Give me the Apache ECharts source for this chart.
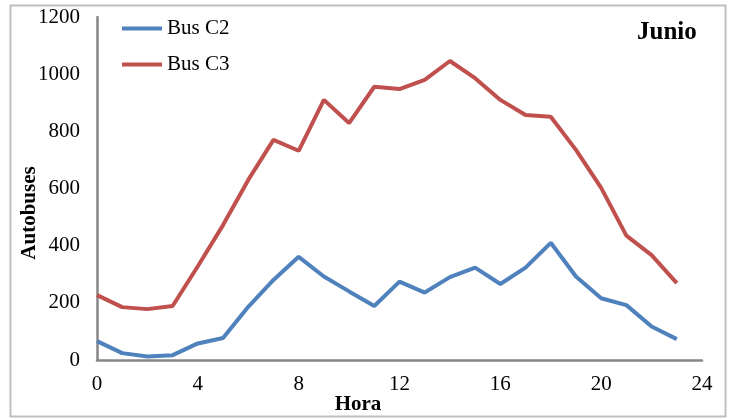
<!DOCTYPE html>
<html>
<head>
<meta charset="utf-8">
<script src="https://cdn.jsdelivr.net/npm/echarts@6/dist/echarts.min.js"></script>
<style>
  html, body { margin: 0; padding: 0; background: #fff; }
  #chart { width: 733px; height: 419px; }
</style>
</head>
<body>
<div id="chart"></div>
<script>
// Horas del día (0-23)
const hours = [0, 1, 2, 3, 4, 5, 6, 7, 8, 9, 10, 11, 12, 13, 14, 15, 16, 17, 18, 19, 20, 21, 22, 23];
const busC2 = [66, 24, 12, 17, 58, 77, 186, 280, 361, 292, 240, 189, 274, 236, 290, 323, 266, 323, 410, 292, 216, 192, 117, 73];
const busC3 = [227, 185, 178, 189, 328, 472, 630, 770, 732, 910, 829, 956, 948, 980, 1046, 986, 910, 857, 851, 735, 602, 435, 367, 269];
const seriesNames = ['Bus C2', 'Bus C3'];
const seriesColors = ['#4F81BD', '#C0504D'];

const chartDom = document.getElementById('chart');
const myChart = echarts.init(chartDom);

const font = '"Liberation Serif", "DejaVu Serif", serif';
const toPairs = vals => hours.map((h, i) => [h, vals[i]]);

const option = {
    animation: false,
    grid: { left: 97, right: 31, top: 17, bottom: 59 },
    legend: {
        orient: 'vertical',
        left: 122,
        top: 18,
        padding: 0,
        itemWidth: 40,
        itemHeight: 4,
        itemGap: 15,
        icon: 'rect',
        textStyle: { fontFamily: font, fontSize: 21, color: '#000' },
        data: seriesNames
    },
    xAxis: {
        type: 'value',
        min: 0,
        max: 24,
        interval: 4,
        axisLine: { show: true, lineStyle: { color: '#868686', width: 2.5 } },
        axisTick: { show: false },
        splitLine: { show: false },
        axisLabel: { margin: 14, fontFamily: font, fontSize: 21, color: '#000' }
    },
    yAxis: {
        type: 'value',
        min: 0,
        max: 1200,
        interval: 200,
        axisLine: { show: true, lineStyle: { color: '#868686', width: 2.5 } },
        axisTick: { show: false },
        splitLine: { show: false },
        axisLabel: {
            margin: 17,
            fontFamily: font,
            fontSize: 21,
            color: '#000',
            formatter: v => String(v)
        }
    },
    graphic: [
        {
            type: 'rect',
            silent: true,
            shape: { x: 10.5, y: 5.5, width: 715, height: 411 },
            style: { fill: 'none', stroke: '#BFBFBF', lineWidth: 2 }
        },
        {
            type: 'text',
            left: 637,
            top: 20,
            style: { text: 'Junio', font: 'bold 25px ' + font, fill: '#000' }
        },
        {
            type: 'text',
            x: 358,
            y: 405,
            style: { text: 'Hora', font: 'bold 21px ' + font, fill: '#000', align: 'center', verticalAlign: 'middle' }
        },
        {
            type: 'text',
            x: 30,
            y: 213,
            rotation: Math.PI / 2,
            style: { text: 'Autobuses', font: 'bold 21px ' + font, fill: '#000', align: 'center', verticalAlign: 'middle' }
        }
    ],
    series: [
        {
            name: seriesNames[0],
            type: 'line',
            data: toPairs(busC2),
            showSymbol: false,
            symbol: 'none',
            lineStyle: { width: 4, color: seriesColors[0] },
            itemStyle: { color: seriesColors[0] }
        },
        {
            name: seriesNames[1],
            type: 'line',
            data: toPairs(busC3),
            showSymbol: false,
            symbol: 'none',
            lineStyle: { width: 4, color: seriesColors[1] },
            itemStyle: { color: seriesColors[1] }
        }
    ]
};

myChart.setOption(option);
window.addEventListener('resize', () => myChart.resize());
</script>
</body>
</html>
